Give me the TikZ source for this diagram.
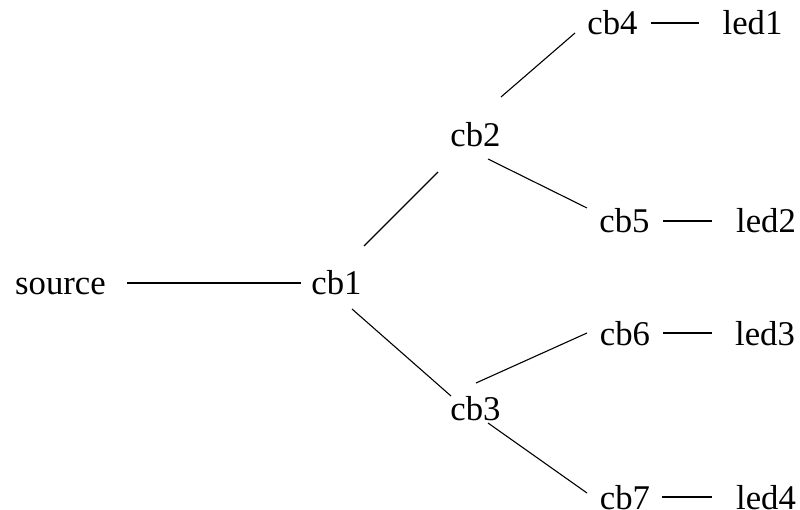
\documentclass[tikz,border=0pt]{standalone}
\usepackage{fontspec}
\setmainfont{Liberation Serif}
\begin{document}
\begin{tikzpicture}[x=1pt,y=-1pt,
  lbl/.style={inner sep=0pt, outer sep=0pt, anchor=center,
    text height=24pt, text depth=0pt, font=\fontsize{34.7}{40}\selectfont},
  wire/.style={line width=1.1pt, black}]
\useasboundingbox (0,0) rectangle (800,510);

% labels
\node[lbl] (source) at (60.5,283) {source};
\node[lbl] (cb1) at (336.5,283) {cb1};
\node[lbl] (cb2) at (475.5,135) {cb2};
\node[lbl] (cb3) at (475.5,408) {cb3};
\node[lbl] (cb4) at (612.5,23) {cb4};
\node[lbl] (cb5) at (624.5,221) {cb5};
\node[lbl] (cb6) at (625,333) {cb6};
\node[lbl] (cb7) at (625,497) {cb7};
\node[lbl] (led1) at (752.5,23) {led1};
\node[lbl] (led2) at (766,221) {led2};
\node[lbl] (led3) at (765,333) {led3};
\node[lbl] (led4) at (766,497) {led4};

% connectors, each end offset from its label's centre
\draw[wire] ([shift={(66.5,0)}]source.center) -- ([shift={(-35.5,0)}]cb1.center);
\draw[wire] ([shift={(27.5,-37)}]cb1.center) -- ([shift={(-37.5,37)}]cb2.center);
\draw[wire] ([shift={(15.5,26)}]cb1.center) -- ([shift={(-24.5,-12)}]cb3.center);
\draw[wire] ([shift={(25.5,-38)}]cb2.center) -- ([shift={(-37.5,10)}]cb4.center);
\draw[wire] ([shift={(12.5,24)}]cb2.center) -- ([shift={(-37.5,-13)}]cb5.center);
\draw[wire] ([shift={(0.5,-25)}]cb3.center) -- ([shift={(-38,0)}]cb6.center);
\draw[wire] ([shift={(12.5,15)}]cb3.center) -- ([shift={(-38,-4)}]cb7.center);
\draw[wire] ([shift={(38.5,0)}]cb4.center) -- ([shift={(-53.5,0)}]led1.center);
\draw[wire] ([shift={(38.5,0)}]cb5.center) -- ([shift={(-54,0)}]led2.center);
\draw[wire] ([shift={(38,0)}]cb6.center) -- ([shift={(-53,0)}]led3.center);
\draw[wire] ([shift={(37,0)}]cb7.center) -- ([shift={(-54,0)}]led4.center);
\end{tikzpicture}
\end{document}
